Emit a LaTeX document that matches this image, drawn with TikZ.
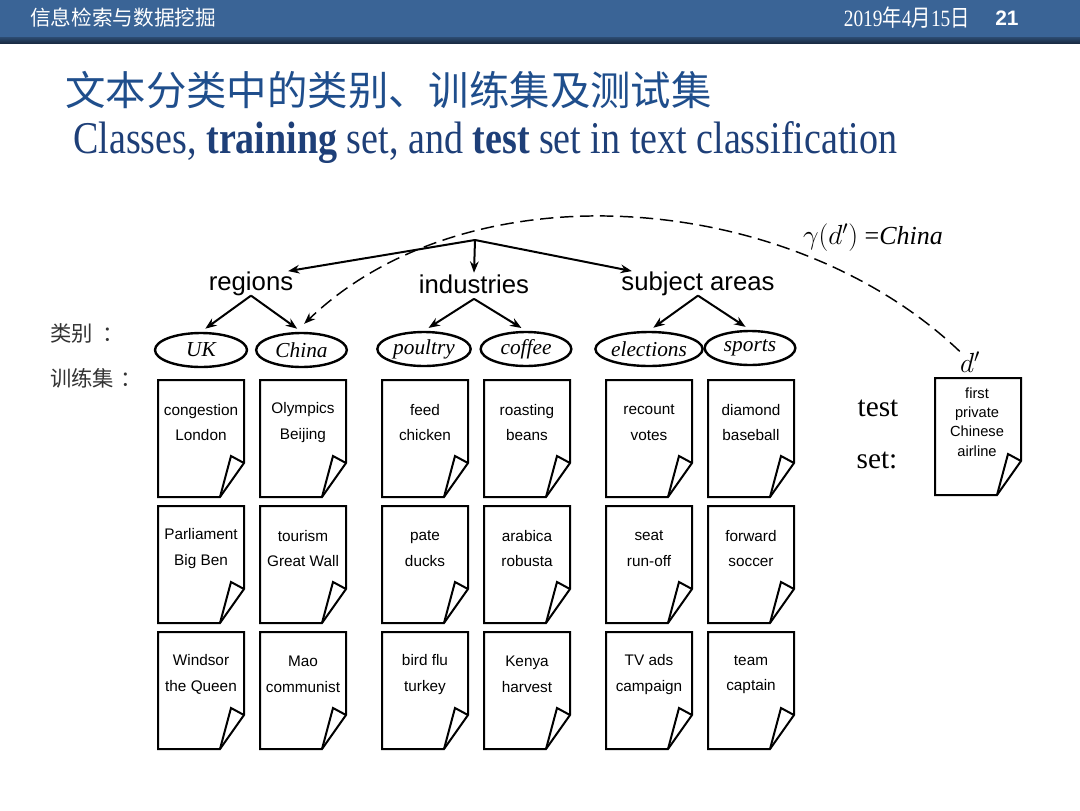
\documentclass[tikz,border=0pt]{standalone}
\usepackage{graphicx}
\usepackage{fontspec}
\setmainfont{Liberation Serif}
\setsansfont{Liberation Sans}
\newfontfamily\cjk{Noto Sans CJK SC}
\usetikzlibrary{shapes.geometric,arrows.meta}
\definecolor{barblue}{HTML}{3A6496}
\definecolor{bardark}{HTML}{1A2C44}
\definecolor{titleblue}{HTML}{1F4E8C}
\definecolor{subblue}{HTML}{1E3F78}
\definecolor{labgray}{HTML}{333333}
\newcommand\docshape[2]{%
  \draw[docline] (#1,#2) -- ++(86,0) -- ++(0,83) -- ++(-24,34) -- ++(-62,0) -- cycle;
  \draw[docline] (#1+62,#2+117) -- ++(11,-41) -- ++(13,7);
}
\newcommand\docpage[5]{% name, x, y, line1, line2
  \docshape{#2}{#3}
  \node[doctext] (#1) at (#2+43,#3+42.5) {#4\\#5};
}
\tikzset{
  docline/.style={line width=1.5pt, line join=miter},
  doctext/.style={font=\sffamily\fontsize{11.5}{19.2}\selectfont, align=center, inner sep=0pt},
  cls/.style={draw, ellipse, line width=1.8pt, inner sep=0pt, minimum height=25.5pt,
              font=\itshape\fontsize{16}{18}\selectfont},
  arr/.style={line width=1.5pt, -{Stealth[length=8.5pt,width=6.5pt]}},
  dashline/.style={line width=1.1pt, dash pattern=on 10pt off 5pt, -{Stealth[length=8.5pt,width=6.5pt]}},
  cat/.style={font=\sffamily\fontsize{19.3}{22}\selectfont, inner sep=0pt, anchor=base},
}
\begin{document}
\begin{tikzpicture}[x=0.75pt,y=-0.75pt]
\useasboundingbox (0,0) rectangle (1080,810);
\fill[white] (0,0) rectangle (1080,810);
% header
\fill[barblue] (0,0) rectangle (1080,37);
\shade[top color=barblue!75!black, bottom color=bardark] (0,37) rectangle (1080,43);
\node[anchor=west, text=white, font=\cjk\fontsize{15.5}{18}\selectfont, inner sep=0pt] (hd) at (30,18) {信息检索与数据挖掘};
\node[anchor=east, text=white, inner sep=0pt] (date) at (970,18) {\scalebox{0.83}[1]{\fontsize{17.5}{20}\selectfont 2019{\cjk 年}4{\cjk 月}15{\cjk 日}}};
\node[anchor=west, text=white, font=\sffamily\bfseries\fontsize{15.7}{18}\selectfont, inner sep=0pt] (pg) at (995,18) {21};
% titles
\node[anchor=west, text=titleblue, font=\cjk\fontsize{30.3}{34}\selectfont, inner sep=0pt] (title) at (65,90) {文本分类中的类别、训练集及测试集};
\node[anchor=base west, text=subblue, inner sep=0pt] (sub) at (73,153) {\resizebox{618pt}{24pt}{Classes, \textbf{training} set, and \textbf{test} set in text classification}};
% left labels
\node[anchor=west, text=labgray, font=\cjk\fontsize{16}{18}\selectfont, inner sep=0pt] (lc) at (50,333) {类别\hspace{7pt}：};
\node[anchor=west, text=labgray, font=\cjk\fontsize{16}{18}\selectfont, inner sep=0pt] (lt) at (50,378) {训练集\hspace{5pt}：};
% hierarchy
\coordinate (root) at (475,240);
\node[cat] (regions) at (251,290) {regions};
\node[cat] (industries) at (474,293) {industries};
\node[cat] (subj) at (698,290) {subject areas};
\node[cls, minimum width=69pt] (uk) at (201,350) {UK};
\node[cls, minimum width=68pt] (china) at (301.5,350) {China};
\node[cls, minimum width=70pt] (poultry) at (424,349) {poultry};
\node[cls, minimum width=68pt] (coffee) at (526,349) {coffee};
\node[cls, minimum width=80pt] (elections) at (649,349) {elections};
\node[cls, minimum width=68pt] (sports) at (750,348) {sports};
\draw[arr] (root) -- ([xshift=-4pt]regions.north east);
\draw[arr] (root) -- ([yshift=1pt]industries.north);
\draw[arr] (root) -- ([xshift=8pt]subj.north west);
\draw[arr, shorten >=4pt] (regions.south) -- (uk.north);
\draw[arr, shorten >=4pt] (regions.south) -- (china.north);
\draw[arr, shorten >=4pt] ([yshift=-4pt]industries.south) -- (poultry.north);
\draw[arr, shorten >=4pt] ([yshift=-4pt]industries.south) -- (coffee.north);
\draw[arr, shorten >=4pt] (subj.south) -- (elections.north);
\draw[arr, shorten >=4pt] (subj.south) -- (sports.north);
% gamma label and d'
\node[inner sep=0pt, font=\fontsize{19.5}{22}\selectfont] (gam) at (873,238) {$\gamma(d')$ =\textit{China}};
\node[inner sep=0pt, font=\fontsize{19.5}{22}\selectfont] (dlab) at (970,362) {$d'$};
\draw[dashline] (dlab.north west) .. controls (790,190) and (470,165) .. ([xshift=2pt,yshift=6pt]china.north);
% training documents
\docpage{c1r1}{158}{380}{congestion}{London}
\docpage{c1r2}{158}{506}{Parliament}{Big Ben}
\docpage{c1r3}{158}{632}{Windsor}{the Queen}
\docpage{c2r1}{260}{380}{Olympics}{Beijing}
\docpage{c2r2}{260}{506}{tourism}{Great Wall}
\docpage{c2r3}{260}{632}{Mao}{communist}
\docpage{c3r1}{382}{380}{feed}{chicken}
\docpage{c3r2}{382}{506}{pate}{ducks}
\docpage{c3r3}{382}{632}{bird flu}{turkey}
\docpage{c4r1}{484}{380}{roasting}{beans}
\docpage{c4r2}{484}{506}{arabica}{robusta}
\docpage{c4r3}{484}{632}{Kenya}{harvest}
\docpage{c5r1}{606}{380}{recount}{votes}
\docpage{c5r2}{606}{506}{seat}{run-off}
\docpage{c5r3}{606}{632}{TV ads}{campaign}
\docpage{c6r1}{708}{380}{diamond}{baseball}
\docpage{c6r2}{708}{506}{forward}{soccer}
\docpage{c6r3}{708}{632}{team}{captain}
% test set
\node[inner sep=0pt, font=\fontsize{22}{24}\selectfont] (testl) at (878,408) {test};
\node[inner sep=0pt, font=\fontsize{22}{24}\selectfont] (setl) at (877,460) {set:};
\docshape{935}{378}
\node[inner sep=0pt, align=center, font=\sffamily\fontsize{11}{14.5}\selectfont] (testdoc) at (977,422) {first\\private\\Chinese\\airline};
\end{tikzpicture}
\end{document}
